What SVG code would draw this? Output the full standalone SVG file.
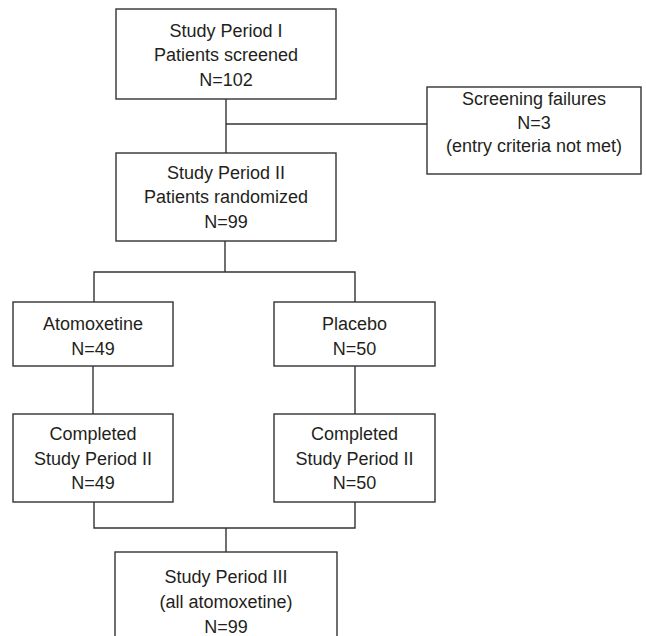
<svg xmlns="http://www.w3.org/2000/svg" width="646" height="636" viewBox="0 0 646 636">
<style>
  .box { fill: #ffffff; stroke: #333333; stroke-width: 1.4; }
  .conn { fill: none; stroke: #333333; stroke-width: 1.4; }
  text { font-family: "Liberation Sans", Arial, sans-serif; font-size: 18px; fill: #231f20; text-anchor: middle; }
</style>
<rect width="646" height="636" fill="#ffffff"/>
<g id="connectors">
  <path class="conn" d="M226 99 V153"/>
  <path class="conn" d="M226 124 H427"/>
  <path class="conn" d="M225 241 V272"/>
  <path class="conn" d="M94 302 V272 H355 V302"/>
  <path class="conn" d="M93 366 V414"/>
  <path class="conn" d="M355 366 V414"/>
  <path class="conn" d="M94 502 V528 H355 V502"/>
  <path class="conn" d="M226 528 V552"/>
</g>
<g id="period1">
  <rect class="box" x="116" y="9" width="220" height="90"/>
  <text x="226" y="37">Study Period I</text>
  <text x="226" y="61">Patients screened</text>
  <text x="226" y="86">N=102</text>
</g>
<g id="screening">
  <rect class="box" x="427" y="87" width="214" height="87"/>
  <text x="534" y="105">Screening failures</text>
  <text x="534" y="129">N=3</text>
  <text x="534" y="152">(entry criteria not met)</text>
</g>
<g id="period2">
  <rect class="box" x="116" y="153" width="220" height="88"/>
  <text x="226" y="179">Study Period II</text>
  <text x="226" y="203">Patients randomized</text>
  <text x="226" y="228">N=99</text>
</g>
<g id="atomoxetine">
  <rect class="box" x="13" y="302" width="160" height="64"/>
  <text x="93" y="330">Atomoxetine</text>
  <text x="93" y="355">N=49</text>
</g>
<g id="placebo">
  <rect class="box" x="274" y="302" width="161" height="64"/>
  <text x="354.5" y="330">Placebo</text>
  <text x="354.5" y="355">N=50</text>
</g>
<g id="completed-atomoxetine">
  <rect class="box" x="13" y="414" width="160" height="88"/>
  <text x="93" y="440">Completed</text>
  <text x="93" y="465">Study Period II</text>
  <text x="93" y="489">N=49</text>
</g>
<g id="completed-placebo">
  <rect class="box" x="274" y="414" width="161" height="88"/>
  <text x="354.5" y="440">Completed</text>
  <text x="354.5" y="465">Study Period II</text>
  <text x="354.5" y="489">N=50</text>
</g>
<g id="period3">
  <rect class="box" x="115" y="552" width="222" height="100"/>
  <text x="226" y="583">Study Period III</text>
  <text x="226" y="608">(all atomoxetine)</text>
  <text x="226" y="633">N=99</text>
</g>
</svg>
